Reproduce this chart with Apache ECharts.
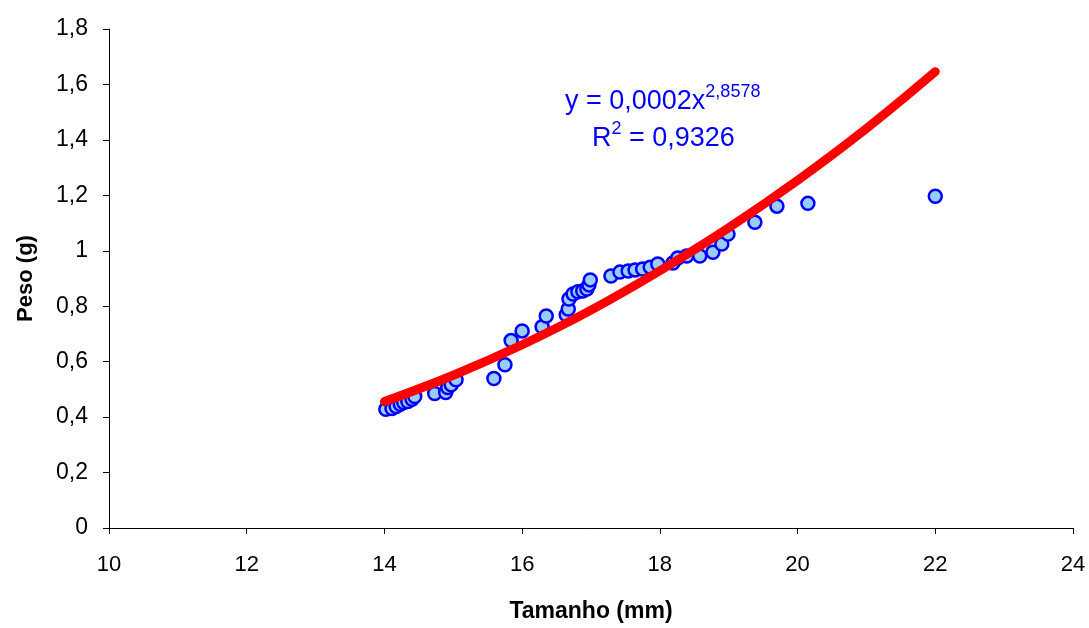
<!DOCTYPE html>
<html>
<head>
<meta charset="utf-8">
<script src="https://cdn.jsdelivr.net/npm/echarts@6/dist/echarts.min.js"></script>
<style>html,body{margin:0;padding:0;background:#fff}#c{width:1089px;height:628px}</style>
</head>
<body>
<div id="c"></div>
<script>
// Scatter data: Tamanho (mm) vs Peso (g)
var tamanho = [14.02,14.11,14.17,14.23,14.28,14.34,14.40,14.44,14.73,14.89,14.92,14.97,15.04,15.59,15.75,15.84,16.00,16.29,16.35,16.64,16.67,16.68,16.74,16.81,16.88,16.94,16.97,16.99,17.29,17.42,17.54,17.64,17.75,17.86,17.97,18.19,18.26,18.39,18.58,18.77,18.90,18.99,19.38,19.70,20.15,22.00];
var peso    = [0.428,0.431,0.438,0.446,0.453,0.456,0.464,0.474,0.485,0.489,0.507,0.517,0.535,0.539,0.589,0.676,0.711,0.726,0.765,0.769,0.790,0.826,0.844,0.852,0.855,0.862,0.877,0.895,0.909,0.923,0.927,0.931,0.934,0.941,0.952,0.956,0.974,0.981,0.981,0.995,1.024,1.060,1.103,1.161,1.171,1.197];
// Power trendline
var trendX = [14,15,16,17,18,19,20,21,22];
var trendY = [0.456,0.551,0.661,0.786,0.928,1.083,1.254,1.441,1.646];
var xTicks = [10,12,14,16,18,20,22,24];
var yTicks = [0,0.2,0.4,0.6,0.8,1,1.2,1.4,1.6,1.8];
var eqLine1 = 'y = 0,0002x';
var eqExp = '2,8578';
var r2Label = 'R';
var r2Value = ' = 0,9326';
var xName = 'Tamanho (mm)';
var yName = 'Peso (g)';

var font = '"Liberation Sans", Arial, sans-serif';
function fmtY(v){ return Math.abs(v-Math.round(v))<1e-9 ? String(Math.round(v)) : v.toFixed(1).replace('.',','); }

var chart = echarts.init(document.getElementById('c'), null, {renderer:'canvas'});
chart.setOption({
  animation:false,
  backgroundColor:'#fff',
  grid:{left:109,right:16,top:29,bottom:98,containLabel:false},
  xAxis:{
    type:'value', min:xTicks[0], max:xTicks[xTicks.length-1], interval:2,
    name:xName, nameLocation:'middle', nameGap:72,
    nameTextStyle:{fontFamily:font,fontSize:23,fontWeight:'bold',color:'#000'},
    axisLine:{show:true,onZero:false,lineStyle:{color:'#000',width:1}},
    axisTick:{show:true,length:6,lineStyle:{color:'#000'}},
    axisLabel:{fontFamily:font,fontSize:22,color:'#000',margin:26},
    splitLine:{show:false}
  },
  yAxis:{
    type:'value', min:yTicks[0], max:yTicks[yTicks.length-1], interval:0.2,
    name:yName, nameLocation:'middle', nameGap:72, nameRotate:90,
    nameTextStyle:{fontFamily:font,fontSize:22,fontWeight:'bold',color:'#000'},
    axisLine:{show:true,lineStyle:{color:'#000',width:1}},
    axisTick:{show:true,length:6,lineStyle:{color:'#000'}},
    axisLabel:{fontFamily:font,fontSize:23,color:'#000',margin:21,formatter:fmtY},
    splitLine:{show:false}
  },
  series:[
    {
      type:'scatter', z:2,
      data:tamanho.map(function(x,i){return [x,peso[i]];}),
      symbol:'circle', symbolSize:13,
      itemStyle:{color:'#99CCFF',borderColor:'#0000FF',borderWidth:2.5,opacity:1}
    },
    {
      type:'line', z:3,
      data:trendX.map(function(x,i){return [x,trendY[i]];}),
      smooth:0.4, showSymbol:false, symbol:'none',
      lineStyle:{color:'#FF0000',width:9,cap:'round'}
    }
  ],
  graphic:[
    {type:'text', left:565, top:83, z:10,
     style:{text:'{b|'+eqLine1+'}{s|'+eqExp+'}', fontFamily:font, fill:'#0000FF',
       rich:{b:{fontFamily:font,fontSize:27,fill:'#0000FF',lineHeight:32,verticalAlign:'bottom'},
             s:{fontFamily:font,fontSize:18,fill:'#0000FF',lineHeight:32,verticalAlign:'top'}}}},
    {type:'text', left:592, top:120, z:10,
     style:{text:'{b|'+r2Label+'}{s|2}{b|'+r2Value+'}', fontFamily:font, fill:'#0000FF',
       rich:{b:{fontFamily:font,fontSize:27,fill:'#0000FF',lineHeight:32,verticalAlign:'bottom'},
             s:{fontFamily:font,fontSize:18,fill:'#0000FF',lineHeight:32,verticalAlign:'top'}}}}
  ]
});
</script>
</body>
</html>
